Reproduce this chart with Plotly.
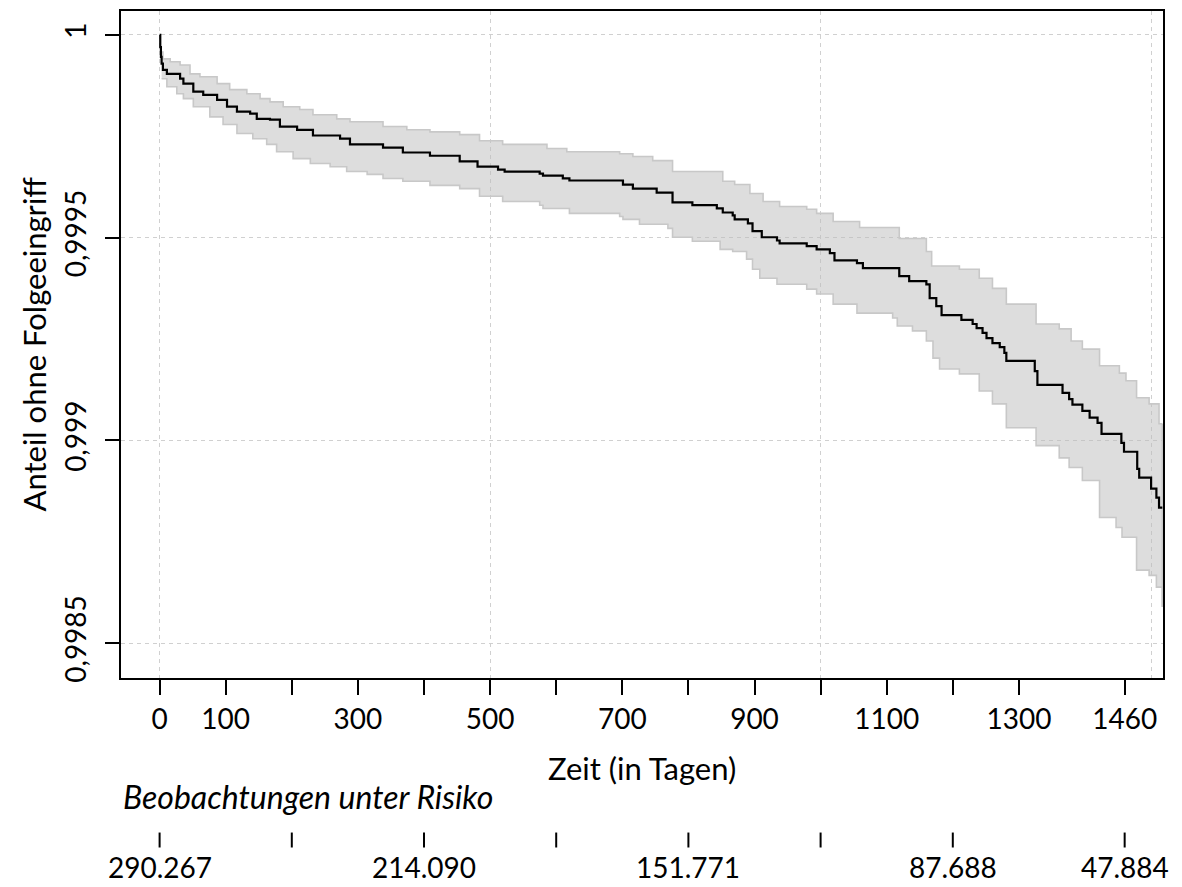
import plotly.graph_objects as go

# Kaplan-Meier estimate: days since first procedure and share without follow-up procedure
surv_days = [0, 1, 2, 3, 5, 11, 31, 36, 51, 66, 87, 102, 117, 137, 147, 167, 182, 208, 232, 273,
             288, 338, 368, 409, 454, 481, 512, 522, 575, 580, 610, 620, 701, 716, 752, 776, 806,
             843, 852, 867, 870, 890, 897, 911, 934, 938, 979, 994, 1014, 1021, 1055, 1064, 1119,
             1134, 1160, 1165, 1175, 1183, 1213, 1230, 1236, 1245, 1251, 1260, 1271, 1278, 1281,
             1324, 1328, 1366, 1376, 1381, 1396, 1407, 1419, 1425, 1455, 1459, 1479, 1482, 1500,
             1508, 1512, 1517]
surv_vals = [1.0, 0.99997, 0.999946, 0.999929, 0.999914, 0.999904, 0.999892, 0.999880, 0.999860,
             0.999852, 0.999840, 0.999823, 0.999811, 0.999806, 0.999793, 0.999791, 0.999774,
             0.999766, 0.999752, 0.999744, 0.999730, 0.999722, 0.999710, 0.999702, 0.999688,
             0.999675, 0.999668, 0.999663, 0.999658, 0.999653, 0.999646, 0.999641, 0.999631,
             0.999621, 0.999611, 0.999587, 0.999580, 0.999572, 0.999562, 0.999555, 0.999545,
             0.999535, 0.999516, 0.999501, 0.999493, 0.999486, 0.999479, 0.999471, 0.999462,
             0.999444, 0.999437, 0.999425, 0.999405, 0.999393, 0.999385, 0.999351, 0.999331,
             0.999309, 0.999297, 0.999287, 0.999277, 0.999265, 0.999252, 0.999240, 0.999230,
             0.999216, 0.999196, 0.999171, 0.999137, 0.999117, 0.999102, 0.999088, 0.999073,
             0.999056, 0.999043, 0.999016, 0.998994, 0.998972, 0.998930, 0.998908, 0.998881,
             0.998859, 0.998834, 0.998834]

# Upper and lower limits of the 95% confidence band
upper_days = [3, 5, 16, 31, 46, 61, 87, 106, 132, 152, 167, 187, 212, 232, 268, 288, 338, 374,
              409, 454, 484, 519, 586, 616, 696, 716, 746, 776, 852, 870, 893, 913, 938, 979,
              994, 1019, 1059, 1119, 1160, 1168, 1210, 1240, 1260, 1281, 1326, 1361, 1379, 1396,
              1422, 1452, 1462, 1478, 1497, 1512, 1517]
upper_vals = [0.999958, 0.999941, 0.999934, 0.999926, 0.999904, 0.999897, 0.999880, 0.999865,
              0.999855, 0.999843, 0.999835, 0.999823, 0.999816, 0.999803, 0.999793, 0.999786,
              0.999774, 0.999766, 0.999761, 0.999754, 0.999739, 0.999730, 0.999720, 0.999712,
              0.999707, 0.999700, 0.999690, 0.999663, 0.999639, 0.999631, 0.999609, 0.999589,
              0.999577, 0.999570, 0.999560, 0.999540, 0.999525, 0.999498, 0.999466, 0.999430,
              0.999422, 0.999400, 0.999375, 0.999336, 0.999287, 0.999275, 0.999245, 0.999225,
              0.999184, 0.999166, 0.999147, 0.999105, 0.999090, 0.999041, 0.999041]
lower_days = [3, 11, 26, 36, 51, 76, 96, 117, 141, 162, 177, 202, 228, 258, 283, 314, 338, 368,
              409, 454, 484, 519, 575, 580, 620, 696, 701, 726, 769, 776, 806, 848, 867, 888, 897,
              908, 934, 979, 994, 1019, 1055, 1109, 1116, 1139, 1160, 1170, 1180, 1210, 1240,
              1260, 1281, 1326, 1361, 1376, 1396, 1422, 1447, 1456, 1478, 1497, 1508, 1517]
lower_vals = [0.999892, 0.999872, 0.999855, 0.999843, 0.999823, 0.999798, 0.999779, 0.999757,
              0.999744, 0.999730, 0.999712, 0.999695, 0.999683, 0.999675, 0.999663, 0.999656,
              0.999646, 0.999639, 0.999629, 0.999621, 0.999602, 0.999589, 0.999580, 0.999572,
              0.999560, 0.999552, 0.999545, 0.999533, 0.999523, 0.999501, 0.999491, 0.999471,
              0.999466, 0.999447, 0.999422, 0.999400, 0.999385, 0.999373, 0.999361, 0.999336,
              0.999314, 0.999302, 0.999282, 0.999270, 0.999245, 0.999203, 0.999176, 0.999164,
              0.999122, 0.999090, 0.999031, 0.998987, 0.998957, 0.998933, 0.998901, 0.998810,
              0.998785, 0.998761, 0.998680, 0.998667, 0.998638, 0.998589]

# Axis ticks
x_tick_vals = [0, 100, 200, 300, 400, 500, 600, 700, 800, 900, 1000, 1100, 1200, 1300, 1460]
x_tick_text = ["0", "100", "", "300", "", "500", "", "700", "", "900", "", "1100", "", "1300", "1460"]
x_grid_vals = [0, 500, 1000, 1500]
y_tick_vals = [1.0, 0.9995, 0.999, 0.9985]
y_tick_text = ["1", "0,9995", "0,999", "0,9985"]

# Numbers at risk
risk_tick_days = [0, 200, 400, 600, 800, 1000, 1200, 1460]
risk_days = [0, 400, 800, 1200, 1460]
risk_counts = ["290.267", "214.090", "151.771", "87.688", "47.884"]

FONT = "Lato"
NUM_SIZE = 28
TITLE_SIZE = 31
BAND_LINE = "rgb(200,200,200)"
BAND_FILL = "rgba(190,190,190,0.52)"
GRID = "rgb(208,208,208)"

fig = go.Figure()

fig.add_trace(go.Scatter(
    x=lower_days, y=lower_vals, mode="lines", line=dict(shape="hv", color=BAND_LINE, width=1.6),
    hoverinfo="skip", showlegend=False))
fig.add_trace(go.Scatter(
    x=upper_days, y=upper_vals, mode="lines", line=dict(shape="hv", color=BAND_LINE, width=1.6),
    fill="tonexty", fillcolor=BAND_FILL, hoverinfo="skip", showlegend=False))
fig.add_trace(go.Scatter(
    x=[upper_days[-1], lower_days[-1]], y=[upper_vals[-1], lower_vals[-1]], mode="lines",
    line=dict(color=BAND_LINE, width=1.6), hoverinfo="skip", showlegend=False))
fig.add_trace(go.Scatter(
    x=surv_days, y=surv_vals, mode="lines", line=dict(shape="hv", color="black", width=2.2),
    showlegend=False))
# invisible trace that carries the secondary x axis used for the vertical grid
fig.add_trace(go.Scatter(x=[x_grid_vals[0]], y=[y_tick_vals[0]], xaxis="x2", mode="markers",
                         marker=dict(opacity=0), hoverinfo="skip", showlegend=False))

x_range = [-58.4, 1518.0]
y_range = [0.998414, 1.000059]

fig.update_layout(
    width=1182, height=887,
    margin=dict(l=121, r=19, t=9, b=209),
    paper_bgcolor="white", plot_bgcolor="white",
    font=dict(family=FONT, size=NUM_SIZE, color="black"),
    xaxis=dict(
        range=x_range, tickmode="array", tickvals=x_tick_vals, ticktext=x_tick_text,
        ticks="outside", ticklen=15, tickwidth=2, tickcolor="black",
        showgrid=False, zeroline=False,
        showline=True, linecolor="black", linewidth=2, mirror=True,
        tickfont=dict(family=FONT, size=NUM_SIZE),
    ),
    xaxis2=dict(
        range=x_range, overlaying="x", anchor="y", side="bottom",
        tickmode="array", tickvals=x_grid_vals, showticklabels=False, ticks="",
        showgrid=True, gridcolor=GRID, gridwidth=1.2, griddash="4px,4px",
        zeroline=False, showline=False,
    ),
    yaxis=dict(
        range=y_range, tickmode="array", tickvals=y_tick_vals, ticktext=y_tick_text,
        ticks="outside", ticklen=14, tickwidth=2, tickcolor="black", tickangle=-90,
        ticklabelstandoff=8,
        showgrid=True, gridcolor=GRID, gridwidth=1.2, griddash="4px,4px",
        zeroline=False, showline=True, linecolor="black", linewidth=2, mirror=True,
        tickfont=dict(family=FONT, size=NUM_SIZE),
    ),
)

annotations = [
    dict(text="Zeit (in Tagen)", xref="paper", yref="paper", x=0.5, y=(678 - 768) / 669,
         xanchor="center", yanchor="middle", showarrow=False,
         font=dict(family=FONT, size=TITLE_SIZE)),
    dict(text="Anteil ohne Folgeeingriff", xref="paper", yref="paper", x=(33 - 121) / 1042,
         y=0.5, textangle=-90, xanchor="center", yanchor="middle", showarrow=False,
         font=dict(family=FONT, size=TITLE_SIZE)),
    dict(text="<i>Beobachtungen unter Risiko</i>", xref="paper", yref="paper",
         x=(121 - 121) / 1042, y=(678 - 797) / 669, xanchor="left", yanchor="middle",
         showarrow=False, font=dict(family=FONT, size=TITLE_SIZE + 1)),
]
for d, n in zip(risk_days, risk_counts):
    annotations.append(dict(text=n, xref="x", yref="paper", x=d, y=(678 - 868) / 669,
                            xanchor="center", yanchor="middle", showarrow=False,
                            font=dict(family=FONT, size=NUM_SIZE)))
fig.update_layout(annotations=annotations)

shapes = []
for d in risk_tick_days:
    shapes.append(dict(type="line", xref="x", yref="paper", x0=d, x1=d,
                       y0=(678 - 833) / 669, y1=(678 - 848) / 669,
                       line=dict(color="black", width=2)))
fig.update_layout(shapes=shapes)

fig.write_html("out.html")
